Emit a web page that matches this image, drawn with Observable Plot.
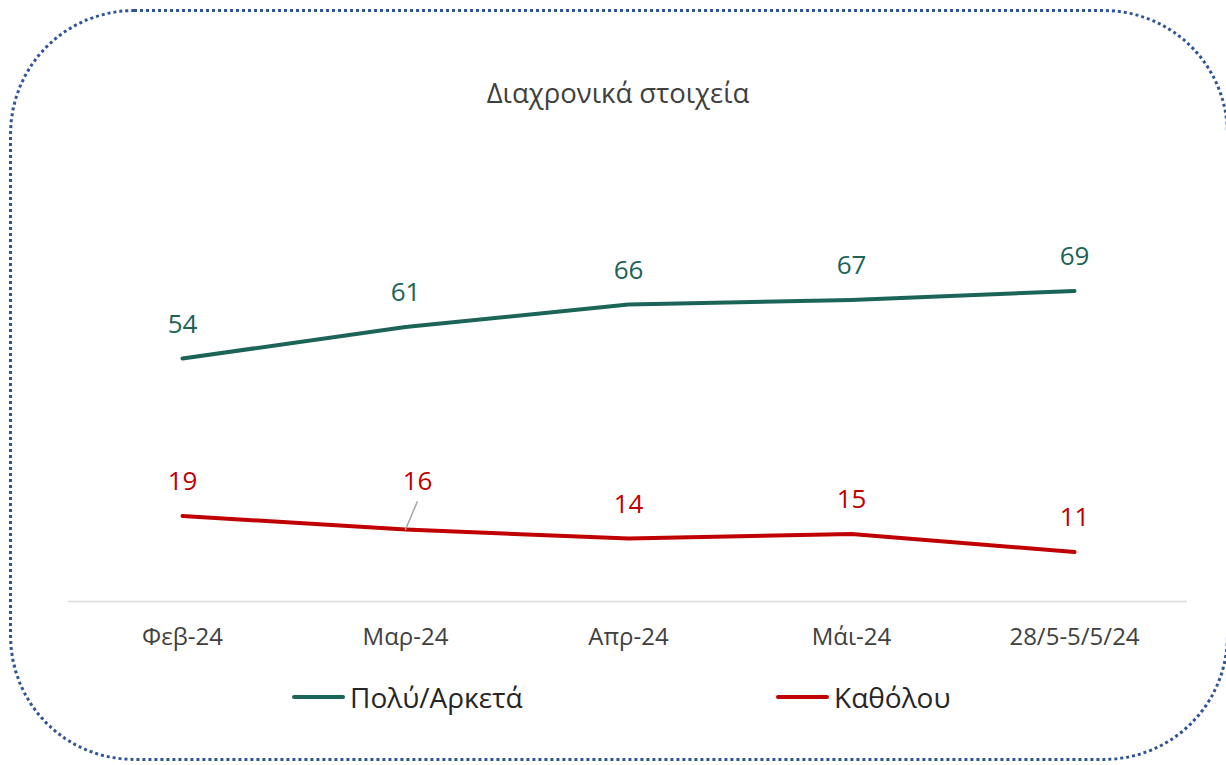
<!DOCTYPE html>
<html>
<head>
<meta charset="utf-8">
<script src="https://cdn.jsdelivr.net/npm/d3@7"></script>
<script src="https://cdn.jsdelivr.net/npm/@observablehq/plot@0.6"></script>
<style>
  html, body { margin: 0; padding: 0; background: #fff; }
  #wrap { position: relative; width: 1226px; height: 765px; overflow: hidden; font-family: "Open Sans", "Noto Sans", sans-serif; }
  #frame { position: absolute; left: 9px; top: 9px; width: 1220px; height: 752px; border: 3px dotted #2f5597; border-radius: 125px; box-sizing: border-box; }
  #title { position: absolute; left: 0; width: 1236px; top: 74px; line-height: 38px; text-align: center; font-size: 27.5px; color: #404040; }
  #chart { position: absolute; left: 0; top: 0; }
  .leg { position: absolute; top: 678px; line-height: 38px; font-size: 28px; color: #262626; display: flex; align-items: center; }
  .leg span.sw { display: inline-block; width: 53px; height: 4px; border-radius: 2px; margin-right: 5px; }
</style>
</head>
<body>
<div id="wrap">
  <div id="frame"></div>
  <div id="title">Διαχρονικά στοιχεία</div>
  <div id="chart"></div>
  <div class="leg" style="left:292px"><span class="sw" style="background:#1b6457"></span>Πολύ/Αρκετά</div>
  <div class="leg" style="left:776px"><span class="sw" style="background:#c00000"></span>Καθόλου</div>
</div>
<script>
const periods = ["Φεβ-24", "Μαρ-24", "Απρ-24", "Μάι-24", "28/5-5/5/24"];
const seriesNames = ["Πολύ/Αρκετά", "Καθόλου"];
const poluArketa = [54, 61, 66, 67, 69];
const katholou = [19, 16, 14, 15, 11];
const colors = ["#1b6457", "#c00000"];

const rows = [];
periods.forEach((p, i) => {
  rows.push({period: p, series: seriesNames[0], value: poluArketa[i]});
  rows.push({period: p, series: seriesNames[1], value: katholou[i]});
});
const normalLabels = rows.filter(d => !(d.series === seriesNames[1] && d.period === "Μαρ-24"));
const shiftedLabels = rows.filter(d => d.series === seriesNames[1] && d.period === "Μαρ-24");

const chart = Plot.plot({
  width: 1226,
  height: 765,
  marginLeft: 68,
  marginRight: 39,
  marginTop: 241,
  marginBottom: 164,
  style: {fontFamily: "'Open Sans', 'Noto Sans', sans-serif", background: "transparent", overflow: "visible"},
  x: {type: "point", domain: periods, padding: 0.5, label: null},
  y: {domain: [0, 80], axis: null},
  color: {domain: seriesNames, range: colors},
  marks: [
    Plot.ruleY([0], {stroke: "#d9d9d9", strokeWidth: 1.3}),
    Plot.axisX({tickSize: 0, tickPadding: 26, fontSize: 24, color: "#404040", label: null}),
    Plot.line(rows, {x: "period", y: "value", z: "series", stroke: "series", strokeWidth: 4, strokeLinecap: "round"}),
    Plot.vector(shiftedLabels, {x: "period", y: "value", length: 30, rotate: 23, anchor: "start", stroke: "#a6a6a6", strokeWidth: 1.5,
      shape: {draw(ctx, l) { ctx.moveTo(0, 0); ctx.lineTo(0, -l); }}}),
    Plot.text(normalLabels, {x: "period", y: "value", text: d => String(d.value), fill: "series", dy: -34, fontSize: 26}),
    Plot.text(shiftedLabels, {x: "period", y: "value", text: d => String(d.value), fill: "series", dy: -48, dx: 12, fontSize: 26})
  ]
});
document.getElementById("chart").appendChild(chart);
</script>
</body>
</html>
